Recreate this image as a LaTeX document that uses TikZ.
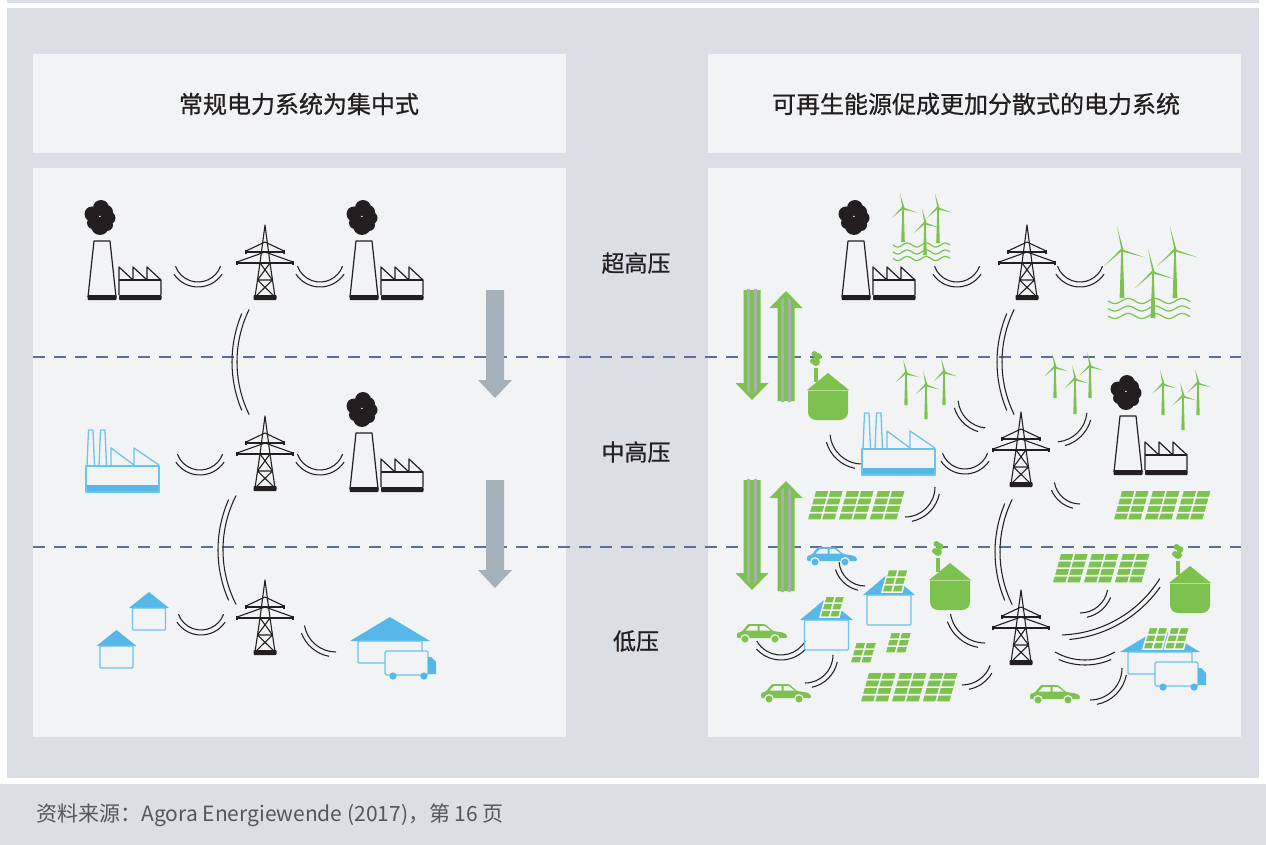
\documentclass[tikz,border=0pt]{standalone}
\usepackage{fontspec}
\newfontfamily\cjk{Noto Sans CJK SC}
\newfontfamily\cjkhead[FakeBold=0.7]{Noto Sans CJK SC}
\definecolor{frame}{HTML}{DBDEE5}
\definecolor{card}{HTML}{F2F3F5}
\definecolor{ink}{HTML}{231F20}
\definecolor{sky}{HTML}{55B8E9}
\definecolor{skyline}{HTML}{6CC3EE}
\definecolor{leaf}{HTML}{7DC24F}
\definecolor{leaflight}{HTML}{B9DE9C}
\definecolor{slate}{HTML}{5A6F96}
\definecolor{steel}{HTML}{A5B1BA}
\definecolor{stripe}{HTML}{A9AFB7}
\definecolor{note}{HTML}{55565B}

% two parallel arcs: centre x, centre y, radius, start angle, end angle
\newcommand\wires[5]{%
  \pgfmathsetmacro\wiS{7/(#3+5)*57.3}%
  \pgfmathsetmacro\wiA{#4+\wiS}%
  \pgfmathsetmacro\wiB{#5-\wiS}%
  \pgfmathsetmacro\wiR{#3+5}%
  \draw[wire] ([shift={(#4:#3)}]#1,#2) arc[start angle=#4,end angle=#5,radius=#3];
  \draw[wire] ([shift={(\wiA:\wiR)}]#1,#2) arc[start angle=\wiA,end angle=\wiB,radius=\wiR];}

% solar array: x, y (bottom left), panels, columns, rows, cell width, cell height
\newcommand\solar[7]{%
  \foreach \pa in {1,...,#3}{\foreach \co in {1,...,#4}{\foreach \ro in {1,...,#5}{%
    \pgfmathsetmacro\sx{#1+(\pa-1)*(#4*(#6+1.5)+2.5)+(\co-1)*(#6+1.5)+0.28*(\ro-1)*(#7+1.5)}%
    \pgfmathsetmacro\sy{#2-(\ro-1)*(#7+1.5)}%
    \filldraw[fill=leaf,draw=card,line width=1.5pt] (\sx,\sy) -- ++(#6+1.5,0)
      -- ++({0.28*(#7+1.5)},{-(#7+1.5)}) -- ++({-(#6+1.5)},0) -- cycle;}}}}

% wind turbine: hub x, hub y, blade length, tower height, tower half width at base
\newcommand\turbine[5]{%
  \fill[leaf] (#1-0.7,#2) -- (#1+0.7,#2) -- (#1+#5,#2+#4) -- (#1-#5,#2+#4) -- cycle;
  \foreach \ba in {258,18,138}{%
    \fill[leaf] ([shift={(\ba+90:1.5)}]#1,#2) -- ([shift={(\ba:#3)}]#1,#2)
      -- ([shift={(\ba-90:0.6)}]#1,#2) -- cycle;}
  \fill[leaf] (#1,#2) circle (1.6);}

% wavy water lines: x from, x to, y, amplitude, period
\newcommand\waves[5]{%
  \draw[leaf,line width=1.2pt] plot[domain=0:{#2-#1},samples=70,smooth]
    ({#1+\x},{#3+#4*sin(360*(\x/#5))});}

% house: centre x, base y, roof half width, roof height, body half width, body height
\newcommand\house[6]{%
  \fill[sky] (#1-#3,#2-#6) -- (#1,#2-#6-#4) -- (#1+#3,#2-#6) -- cycle;
  \draw[skyline,line width=1.3pt,rounded corners=1pt] (#1-#5,#2-#6) rectangle (#1+#5,#2);}

\tikzset{
  wire/.style={draw=ink,line width=1.05pt},
  title/.style={font=\cjkhead\fontsize{24}{24}\selectfont,text=ink},
  level/.style={font=\cjkhead\fontsize{23}{23}\selectfont,text=ink},
  pylon/.pic={
    \begin{scope}[draw=ink,line width=1.1pt,line join=round]
      \draw (-10,-3) -- (-5,-37) -- (0,-75) -- (5,-37) -- (10,-3);
      \draw (-19,-48) -- (19,-48);
      \draw (-19,-49) -- (0,-58) -- (19,-49);
      \draw (-28,-37) -- (28,-37);
      \draw (-28,-38) -- (0,-48) -- (28,-38);
      \draw (-19,-46) -- (-19,-50) (19,-46) -- (19,-50) (-28,-35) -- (-28,-39) (28,-35) -- (28,-39);
      \draw (-5,-37) -- (7.5,-20) -- (-7.5,-20) -- (5,-37);
      \draw (-7.5,-20) -- (10,-3) (7.5,-20) -- (-10,-3);
      \fill[ink,rounded corners=0.8pt] (-11.5,-5) rectangle (11.5,0);
    \end{scope}},
  coalplant/.pic={
    \begin{scope}[draw=ink,line width=1.2pt,line join=round]
      \draw (0,-3) -- (6,-59) -- (22,-59) -- (28,-3);
      \fill[ink,rounded corners=0.8pt] (-0.5,-5) rectangle (28.5,0);
      \fill[ink,rounded corners=0.8pt] (31,-5) rectangle (73.5,0);
      \draw (31,-5) -- (31,-33) -- (45,-20) -- (45,-33) -- (59,-20) -- (59,-33) -- (73,-20) -- (73,-5);
      \draw (31,-20) -- (73,-20);
      \fill[ink] (13,-92) circle (8) (4,-86) circle (7.5) (21,-82) circle (6.5)
        (12,-74) circle (9) (5,-77) circle (6) (18,-88) circle (7) (19,-75) circle (6);
    \end{scope}},
  factory/.pic={
    \begin{scope}[draw=skyline,line width=1.3pt,line join=round]
      \fill[sky,rounded corners=1pt] (0,-7) rectangle (73,0);
      \draw (0,0) rectangle (73,-26);
      \draw (1,-26) -- (2.5,-62) -- (7,-62) -- (8.5,-26);
      \draw (13,-26) -- (14.5,-62) -- (19,-62) -- (20.5,-26);
      \draw (25,-26) -- (25,-44) -- (48,-27);
      \draw (48,-26) -- (48,-44) -- (73,-27);
    \end{scope}},
  biogas/.pic={
    \fill[leaf] (-20,-30) -- (-20,-8) arc[start angle=180,end angle=90,radius=8]
      -- (12,0) arc[start angle=90,end angle=0,radius=8] -- (20,-30) -- cycle;
    \fill[leaf] (-21,-30) -- (0,-47) -- (21,-30) -- cycle;
    \draw[leaflight,line width=1pt] (-20,-30) -- (20,-30);
    \fill[leaf] (-14,-52) rectangle (-10,-38);
    \fill[leaf] (-12,-58) circle (4) (-10,-63.5) circle (3.4) (-13.5,-66) circle (3) (-15,-59) circle (3);},
  depot/.pic={
    \fill[sky] (0,0) -- (40,-24) -- (80,0) -- cycle;
    \draw[skyline,line width=1.3pt,rounded corners=1pt] (8,0) rectangle (72,22);
    \filldraw[fill=card,draw=skyline,line width=1.3pt,rounded corners=1.5pt] (35,10) rectangle (78,34);
    \fill[sky] (78,16) -- (81,16) -- (86,21) -- (86,33) -- (78,33) -- cycle;
    \fill[sky] (43,35) circle (3.6) (74,35) circle (3.6);},
  sink/.pic={
    \fill[steel] (-9,-108) -- (9,-108) -- (9,-18) -- (17,-18) -- (0,0) -- (-17,-18) -- (-9,-18) -- cycle;},
  flow/.pic={
    \fill[leaf] (-8.5,-110) -- (8.5,-110) -- (8.5,-17) -- (16.5,-17) -- (0,0) -- (-16.5,-17) -- (-8.5,-17) -- cycle;
    \begin{scope}
      \clip (-7,-111) -- (7,-111) -- (7,-19.5) -- (12.5,-19.5) -- (0,-3.5) -- (-12.5,-19.5) -- (-7,-19.5) -- cycle;
      \fill[stripe] (-5.2,-112) rectangle (-1.6,0);
      \fill[stripe] (1.6,-112) rectangle (5.2,0);
    \end{scope}},
  pics/car/.style={code={
    \fill[#1,rounded corners=1.2pt] (0,-1) -- (0,-6) -- (5,-7.5) -- (11,-15) -- (28,-15) -- (36,-8)
      -- (46,-6.5) -- (50,-4) -- (50,-1) -- cycle;
    \fill[card] (13,-13) -- (20.5,-13) -- (20.5,-8.5) -- (8.5,-8.5) -- cycle;
    \fill[card] (22.5,-13) -- (27.5,-13) -- (33.5,-8.5) -- (22.5,-8.5) -- cycle;
    \filldraw[fill=#1,draw=card,line width=1.2pt] (8,0) circle (4.3) (38,0) circle (4.3);}}
}

\begin{document}
\begin{tikzpicture}[x=1pt,y=-1pt]
\useasboundingbox (0,0) rectangle (1266,845);
% frame and cards
\fill[white] (0,0) rectangle (1266,845);
\fill[frame] (7,0) rectangle (1259,3);
\fill[frame] (7,8) rectangle (1259,778);
\fill[frame] (0,784) rectangle (1266,845);
\fill[card] (33,54) rectangle (566,153);
\fill[card] (708,54) rectangle (1241,153);
\fill[card] (33,168) rectangle (566,737);
\fill[card] (708,168) rectangle (1241,737);

\node[title] (headL) at (299,104) {常规电力系统为集中式};
\node[title] (headR) at (976,104) {可再生能源促成更加分散式的电力系统};
\node[level] (ehv) at (636,263) {超高压};
\node[level] (mv) at (636,452) {中高压};
\node[level] (lv) at (636,641) {低压};
\node[anchor=west,font=\cjk\fontsize{21}{21}\selectfont,text=note] (src) at (33,815)
  {资料来源：Agora Energiewende (2017)，第 16 页};

% voltage level boundaries
\draw[slate,line width=1.5pt,dash pattern=on 12pt off 9pt] (33,357) -- (1241,357);
\draw[slate,line width=1.5pt,dash pattern=on 12pt off 9pt] (33,547) -- (1241,547);

% power flow arrows
\pic at (495,398) {sink};
\pic at (495,588) {sink};
\pic at (752,400) {flow};
\pic[rotate=180] at (786,291) {flow};
\pic at (752,590) {flow};
\pic[rotate=180] at (786,481) {flow};

% ---------- centralised system ----------
\wires{198}{258}{24}{20}{160}
\wires{320}{258}{24}{20}{160}
\wires{357}{362}{120}{154}{206}
\wires{200}{446}{24}{20}{160}
\wires{320}{446}{24}{20}{160}
\wires{343}{550}{120}{153}{207}
\wires{201}{606}{24}{20}{160}
\wires{336}{620}{32}{90}{170}

\pic at (88,300) {coalplant};
\pic at (265,300) {pylon};
\pic at (350,300) {coalplant};
\pic at (86,492) {factory};
\pic at (265,491) {pylon};
\pic at (350,492) {coalplant};
\house{149}{630}{20}{16}{16.5}{22}
\house{116.5}{668}{20}{16}{16.5}{22}
\pic at (265,655) {pylon};
\pic at (350,641) {depot};

% ---------- decentralised system ----------
\wires{957}{258}{24}{20}{160}
\wires{1080}{258}{24}{20}{160}
\wires{1122}{362}{120}{154}{206}
\wires{988}{398}{30}{95}{175}
\wires{862}{432}{32}{90}{175}
\wires{965}{445}{24}{20}{160}
\wires{1055}{410}{32}{5}{85}
\wires{1080}{478}{26}{90}{170}
\wires{905}{487}{30}{0}{90}
\wires{1120}{552}{120}{154}{206}
\wires{865}{560}{26}{90}{175}
\wires{985}{608}{35}{90}{170}
\wires{1080}{585}{28}{10}{90}
\wires{1058}{515}{120}{32}{88}
\wires{1085}{600}{60}{60}{120}
\wires{1090}{668}{32}{0}{90}
\wires{781}{627}{28}{30}{150}
\wires{805}{655}{28}{0}{90}
\wires{962}{655}{30}{20}{90}

% extra high voltage
\pic at (842,300) {coalplant};
\turbine{903}{208}{15}{34}{1.8}
\turbine{938}{208}{15}{35}{1.8}
\turbine{925}{223}{15}{32}{1.8}
\waves{893}{950}{245}{2}{19}
\waves{893}{950}{252}{2}{19}
\waves{893}{950}{258.5}{2}{19}
\pic at (1027,300) {pylon};
\turbine{1122}{250}{24}{48}{2.4}
\turbine{1175}{250}{24}{48}{2.4}
\turbine{1153}{272}{24}{46}{2.4}
\waves{1108}{1190}{301}{2.5}{27}
\waves{1108}{1190}{308.5}{2.5}{27}
\waves{1108}{1190}{316}{2.5}{27}

% medium voltage
\pic at (828,420) {biogas};
\turbine{906}{373}{14}{32}{1.7}
\turbine{944}{372}{14}{33}{1.7}
\turbine{926}{385}{14}{34}{1.7}
\pic at (862,475) {factory};
\pic at (1021,487) {pylon};
\turbine{1055}{367}{14}{31}{1.7}
\turbine{1090}{366}{14}{32}{1.7}
\turbine{1075}{379}{14}{35}{1.7}
\pic at (1114,475) {coalplant};
\turbine{1163}{384}{14}{31}{1.7}
\turbine{1198}{383}{14}{32}{1.7}
\turbine{1183}{396}{14}{34}{1.7}
\solar{807}{520}{3}{2}{4}{12.7}{6}
\solar{1113}{520}{3}{2}{4}{12.7}{6}

% low voltage
\pic at (807,562) {car=sky};
\house{889}{625}{26}{22}{22}{30}
\solar{882}{592}{1}{2}{3}{8.5}{6}
\pic at (950,610) {biogas};
\solar{1052}{583}{3}{2}{4}{12.7}{6}
\pic at (1190,613) {biogas};
\pic at (737,639) {car=leaf};
\house{826.5}{650}{26.5}{22}{22}{30}
\solar{820}{617}{1}{2}{3}{8}{5.5}
\solar{850}{663}{1}{2}{3}{9}{5.5}
\solar{885}{653}{1}{2}{3}{9}{5.5}
\pic at (1021,665) {pylon};
\pic at (1120,652) {depot};
\solar{1143}{649}{2}{2}{3}{8}{5.7}
\pic at (761,699) {car=leaf};
\solar{860}{702}{3}{2}{4}{12.7}{6}
\pic at (1030,700) {car=leaf};
\end{tikzpicture}
\end{document}
